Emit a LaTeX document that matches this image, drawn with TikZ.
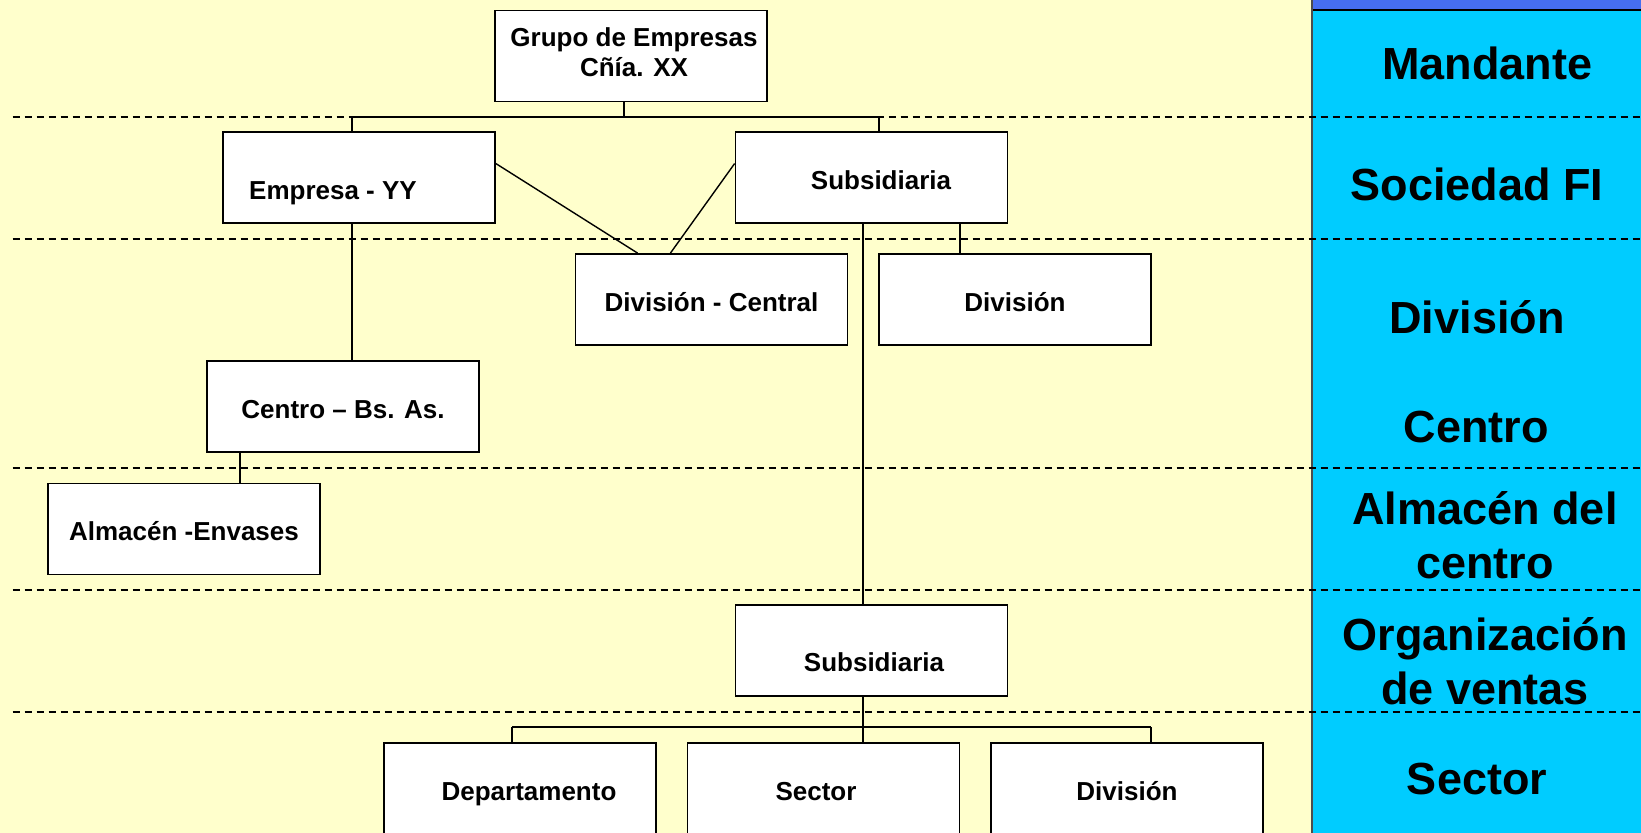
\documentclass[tikz,border=0pt]{standalone}
\usepackage{fontspec}
\setmainfont{Liberation Sans}
\usetikzlibrary{
  positioning,
  calc
}
\definecolor{bgyellow}{RGB}{255, 255, 204}
\definecolor{panelcyan}{RGB}{0, 204, 255}
\definecolor{panelbar}{RGB}{70, 110, 240}
\definecolor{linecolor}{RGB}{0, 0, 0}
\tikzset{
boxtext/.style={
  align=center,
  font=\fontsize{13}{14.7}\selectfont\bfseries,
  text=black
},
oneline/.style={
  text height=11.8pt,
  text depth=0pt
},
orgbox/.style={
  draw=linecolor,
  line width=0.9pt,
  fill=white,
  minimum height=45.5pt,
  minimum width=136pt,
  inner sep=0pt,
  boxtext,
  oneline
},
levellabel/.style={
  align=center,
  font=\fontsize{22.5}{27}\selectfont\bfseries,
  text=black
},
levelline/.style={
  draw=linecolor,
  dash pattern=on 3.5pt off 2.5pt,
  line width=0.75pt
},
link/.style={
  draw=linecolor,
  line width=0.7pt
}
}

\begin{document}
\begin{tikzpicture}[x=0.5pt, y=-0.5pt]
  % Canvas
  \def\picW{1641}
  \def\picH{833}
  \def\panelX{1312} % level panel
  \useasboundingbox (0,0) rectangle (\picW,\picH);
  \clip (0,0) rectangle (\picW,\picH);
  \fill[bgyellow] (0,0) rectangle (\picW,\picH);

  % Level panel
  \fill[panelcyan] (\panelX,10) rectangle (\picW,\picH);
  \fill[panelbar] (\panelX,0) rectangle (\picW,10);
  \draw[linecolor, line width=0.9pt] (\panelX,10) -- (\picW,10);
  \draw[linecolor!70, line width=0.9pt] (\panelX,0) -- (\panelX,\picH);

  % Level lines
  \foreach \y in {117,239,468,590,712} {
    \draw[levelline] (12.6,\y) -- (\picW,\y);
  }

  % Boxes
  \node[orgbox] (grupo) at (631,56) {};
  \node[boxtext] (grupotxt) at (634,52.2) {Grupo de Empresas\\Cñía. XX};
  \node[orgbox] (empresa) at (359,177.5) {};
  \node[boxtext, oneline] (empresatxt) at (333,188) {Empresa - YY};
  \node[orgbox] (subsA) at (871.5,177.5) {};
  \node[boxtext, oneline] (subsAtxt) at (881,177.5) {Subsidiaria};
  \node[orgbox] (divcentral) at (711.5,299.5) {División - Central};
  \node[orgbox] (division) at (1015,299.5) {División};
  \node[orgbox] (centro) at (343,406.5) {Centro -- Bs. As.};
  \node[orgbox] (almacen) at (184,529) {Almacén -Envases};
  \node[orgbox] (subsB) at (871.5,650.5) {};
  \node[boxtext, oneline] (subsBtxt) at (874,660) {Subsidiaria};
  \node[orgbox] (depto) at (520,788.5) {};
  \node[boxtext, oneline] (deptotxt) at (529,788.5) {Departamento};
  \node[orgbox] (sector) at (823.5,788.5) {};
  \node[boxtext, oneline] (sectortxt) at (816,788.5) {Sector};
  \node[orgbox] (divB) at (1127,788.5) {División};

  % Connectors
  \coordinate (topbar) at (624,117);
  \coordinate (barA) at (352,117);
  \coordinate (barB) at (879,117);
  \coordinate (spine) at (863,0);
  \coordinate (divlink) at (960,0);
  \coordinate (almlink) at (240,0);
  \coordinate (lowbarL) at (512,727);
  \coordinate (lowbarR) at (1151,727);

  \draw[link] (grupo.south -| topbar) -- (topbar);
  \draw[link] (empresa.north -| barA) -- (barA) -- (barB) -- (subsA.north -| barB);
  \draw[link] (empresa.south -| barA) -- (centro.north -| barA);
  \draw[link] ($(empresa.north east)!0.35!(empresa.south east)$)
    -- ($(divcentral.north west)!0.23!(divcentral.north east)$);
  \draw[link] ($(subsA.north west)!0.35!(subsA.south west)$)
    -- ($(divcentral.north west)!0.35!(divcentral.north east)$);
  \draw[link] (subsA.south -| divlink) -- (division.north -| divlink);
  \draw[link] (subsA.south -| spine) -- (subsB.north -| spine);
  \draw[link] (centro.south -| almlink) -- (almacen.north -| almlink);
  \draw[link] (subsB.south -| spine) -- (sector.north -| spine);
  \draw[link] (lowbarL) -- (lowbarR);
  \draw[link] (lowbarL) -- (depto.north -| lowbarL);
  \draw[link] (lowbarR) -- (divB.north -| lowbarR);

  % Level labels
  \node[levellabel] (lvmandante) at (1487,63) {Mandante};
  \node[levellabel] (lvsociedad) at (1477,184) {Sociedad FI};
  \node[levellabel] (lvdivision) at (1477,317) {División};
  \node[levellabel] (lvcentro) at (1476,427) {Centro};
  \node[levellabel] (lvalmacen) at (1485,535) {Almacén del\\centro};
  \node[levellabel] (lvorgventas) at (1485,661) {Organización\\de ventas};
  \node[levellabel] (lvsector) at (1477,779) {Sector};
\end{tikzpicture}
\end{document}
